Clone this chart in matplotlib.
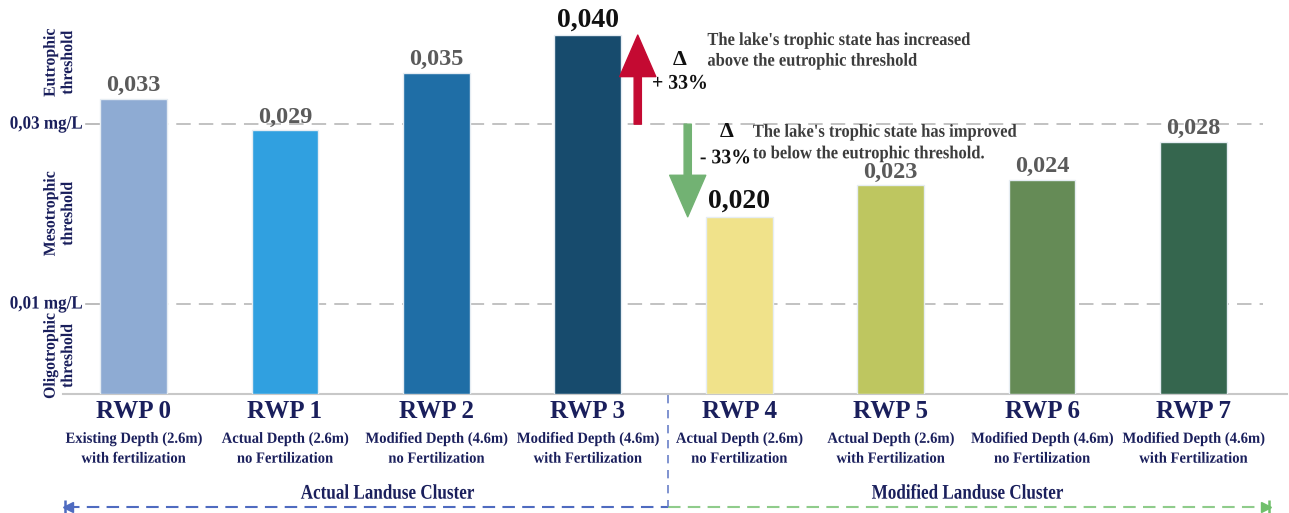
import matplotlib
matplotlib.use("Agg")
import matplotlib.pyplot as plt
from matplotlib.patheffects import AbstractPathEffect
from matplotlib.transforms import Affine2D, blended_transform_factory

# ---------------- data ----------------
categories = ["RWP 0", "RWP 1", "RWP 2", "RWP 3", "RWP 4", "RWP 5", "RWP 6", "RWP 7"]
desc_line1 = ["Existing Depth (2.6m)", "Actual Depth (2.6m)", "Modified Depth (4.6m)",
              "Modified Depth (4.6m)", "Actual Depth (2.6m)", "Actual Depth (2.6m)",
              "Modified Depth (4.6m)", "Modified Depth (4.6m)"]
desc_line2 = ["with fertilization", "no Fertilization", "no Fertilization",
              "with Fertilization", "no Fertilization", "with Fertilization",
              "no Fertilization", "with Fertilization"]
# bar heights
values = [0.0328, 0.0293, 0.0357, 0.0399, 0.0197, 0.0232, 0.0238, 0.0280]
value_labels = ["0,033", "0,029", "0,035", "0,040", "0,020", "0,023", "0,024", "0,028"]
highlight = [False, False, False, True, True, False, False, False]
bar_colors = ["#8eabd3", "#30a0e0", "#1f6ea6", "#174b6d",
              "#f0e28a", "#bec660", "#658b56", "#35664e"]
threshold_values = [0.01, 0.03]
threshold_labels = ["0,01 mg/L", "0,03 mg/L"]
zone_labels = ["Eutrophic\nthreshold", "Mesotrophic\nthreshold", "Oligotrophic\nthreshold"]
zone_centers = [0.0368, 0.0200, 0.0042]
cluster_labels = ["Actual Landuse Cluster", "Modified Landuse Cluster"]
cluster_centers = [1.68, 5.51]
change_labels = ["+ 33%", "- 33%"]
change_line1 = ["The lake's trophic state has increased", "The lake's trophic state has improved"]
change_line2 = ["above the eutrophic threshold", "to below the eutrophic threshold."]

SERIF = ["Liberation Serif", "DejaVu Serif"]
NAVY = "#1a1f5c"


class Condense(AbstractPathEffect):
    """Horizontally compress text glyphs (condensed look)."""
    def __init__(self, sx, anchor="center"):
        super().__init__()
        self.sx = sx
        self.anchor = anchor

    def draw_path(self, renderer, gc, tpath, affine, rgbFace=None):
        ext = tpath.get_extents()
        if self.anchor == "left":
            cx = 0.0
        elif self.anchor == "right":
            cx = ext.x1
        else:
            cx = (ext.x0 + ext.x1) / 2
        t = Affine2D().translate(-cx, 0).scale(self.sx, 1).translate(cx, 0) + affine
        renderer.draw_path(gc, tpath, t, rgbFace)


def cond(sx, anchor="center"):
    return [Condense(sx, anchor)]


fig = plt.figure(figsize=(12.89, 5.13), dpi=100)
ax = fig.add_axes([63 / 1289, 119 / 513, (1287 - 63) / 1289, 394 / 513])
ax.set_xlim(-0.466, 7.618)
ax.set_ylim(0, 0.0438)

x = list(range(len(categories)))
ax.bar(x, values, width=0.44, color=bar_colors, edgecolor="#e6edf3", linewidth=1.0, zorder=3)

# threshold grid lines
for t in threshold_values:
    ax.plot([-0.314, 7.459], [t, t], color="#bdbdbd", lw=1.3, dashes=(8, 4.5), zorder=1)
    ax.plot([-0.314, -0.22], [t, t], color="#bdbdbd", lw=1.3, zorder=1)

for s in ["top", "right", "left"]:
    ax.spines[s].set_visible(False)
ax.spines["bottom"].set_color("#c8c8c8")
ax.spines["bottom"].set_linewidth(1.5)
ax.set_xticks([])
ax.set_yticks([])

# threshold tick labels
for t, lab in zip(threshold_values, threshold_labels):
    ax.text(-0.334, t, lab, ha="right", va="center", fontsize=13.5, fontweight="bold",
            color=NAVY, family=SERIF, path_effects=cond(0.91, "right"), clip_on=False)

# zone labels (rotated)
for yc, lab in zip(zone_centers, zone_labels):
    ax.text(-0.49, yc, lab, rotation=90, ha="center", va="center", fontsize=12,
            fontweight="bold", color=NAVY, family=SERIF, linespacing=1.12,
            path_effects=cond(0.95), clip_on=False)

# value labels
for xi, v, lab, hl in zip(x, values, value_labels, highlight):
    ax.text(xi, v + 0.0003, lab, ha="center", va="bottom",
            fontsize=20 if hl else 17.5, fontweight="bold",
            color="#111111" if hl else "#5a5a5a", family=SERIF, zorder=4)

# category labels below axis
tr = blended_transform_factory(ax.transData, ax.transAxes)
for xi, c, d1, d2 in zip(x, categories, desc_line1, desc_line2):
    ax.text(xi, -0.0436, c, transform=tr, ha="center", va="center", fontsize=18,
            fontweight="bold", color=NAVY, family=SERIF, clip_on=False)
    ax.text(xi, -0.139, d1 + "\n" + d2, transform=tr, ha="center", va="center",
            fontsize=11.2, fontweight="bold", color=NAVY, family=SERIF,
            linespacing=1.32, path_effects=cond(0.94), clip_on=False)

# cluster labels
for xc, lab in zip(cluster_centers, cluster_labels):
    ax.text(xc, -0.253, lab, transform=tr, ha="center", va="center", fontsize=15,
            fontweight="bold", color=NAVY, family=SERIF, path_effects=cond(0.82),
            clip_on=False)

# cluster arrows & separator
sep = 3.53
yl = -0.287
ax.plot([-0.44, sep], [yl, yl], transform=tr, color="#4f6bc0", lw=1.5,
        dashes=(6, 3.5), clip_on=False)
ax.plot([sep, 7.48], [yl, yl], transform=tr, color="#8fcc8b", lw=1.5,
        dashes=(6, 3.5), clip_on=False)
ax.plot([-0.435], [yl], transform=tr, marker="<", ms=7, color="#4f6bc0", clip_on=False)
ax.plot([-0.452], [yl], transform=tr, marker="|", ms=10, mew=1.8, color="#4f6bc0", clip_on=False)
ax.plot([7.48], [yl], transform=tr, marker=">", ms=7, color="#6fbf6b", clip_on=False)
ax.plot([7.496], [yl], transform=tr, marker="|", ms=10, mew=1.8, color="#6fbf6b", clip_on=False)
ax.plot([sep, sep], [-0.003, yl], transform=tr, color="#6a80c8", lw=1.2,
        dashes=(5, 4), clip_on=False)

# change arrows
arrow_kw = dict(arrowstyle="simple,head_length=1.15,head_width=1.0,tail_width=0.2",
                mutation_scale=26, shrinkA=0, shrinkB=0)
ax.annotate("", xy=(3.33, values[3]), xytext=(3.33, threshold_values[1]),
            arrowprops=dict(color="#c40a32", **arrow_kw), zorder=5)
ax.annotate("", xy=(3.66, values[4]), xytext=(3.66, threshold_values[1]),
            arrowprops=dict(color="#72b273", **arrow_kw), zorder=5)

# delta labels
ax.text(3.61, 0.0371, "Δ", ha="center", va="center", fontsize=16, fontweight="bold",
        color="#111111", family=SERIF)
ax.text(3.61, 0.0345, change_labels[0], ha="center", va="center", fontsize=15,
        fontweight="bold", color="#111111", family=SERIF, path_effects=cond(0.95))
ax.text(3.92, 0.0291, "Δ", ha="center", va="center", fontsize=16, fontweight="bold",
        color="#111111", family=SERIF)
ax.text(3.91, 0.0262, change_labels[1], ha="center", va="center", fontsize=15,
        fontweight="bold", color="#111111", family=SERIF, path_effects=cond(0.95))

# explanatory texts (one text per line)
txt_kw = dict(ha="left", va="center", fontsize=13.2, fontweight="bold", color="#3c3c3c",
              family=SERIF, path_effects=cond(0.9, "left"), zorder=4)
ax.text(3.79, 0.0393, change_line1[0], **txt_kw)
ax.text(3.79, 0.0370, change_line2[0], **txt_kw)
ax.text(4.09, 0.0291, change_line1[1], **txt_kw)
ax.text(4.09, 0.0267, change_line2[1], **txt_kw)

fig.savefig("out.png", dpi=100)
